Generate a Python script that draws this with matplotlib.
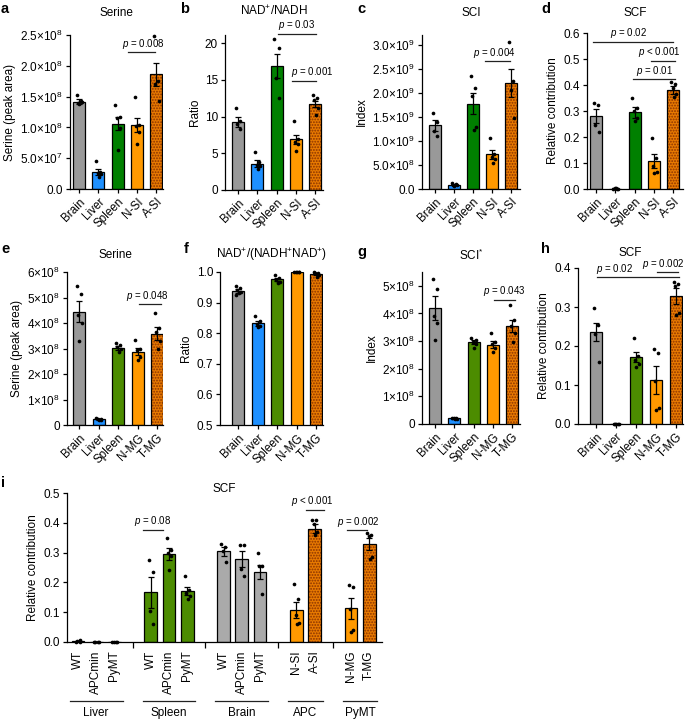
import numpy as np
import matplotlib
matplotlib.use('Agg')
import matplotlib.pyplot as plt

plt.rcParams['font.family'] = 'Liberation Sans'
plt.rcParams['mathtext.fontset'] = 'custom'
plt.rcParams['mathtext.rm'] = 'Liberation Sans'
plt.rcParams['mathtext.it'] = 'Liberation Sans:italic'
plt.rcParams['font.size'] = 8.5
plt.rcParams['hatch.linewidth'] = 0.9
plt.rcParams['axes.linewidth'] = 0.9

# ---------------- data ----------------
si_labels = ['Brain', 'Liver', 'Spleen', 'N-SI', 'A-SI']
mg_labels = ['Brain', 'Liver', 'Spleen', 'N-MG', 'T-MG']

# a  Serine (intestine cohort)
a_mean = [1.42e8, 0.27e8, 1.06e8, 1.04e8, 1.86e8]
a_sem = [0.04e8, 0.05e8, 0.11e8, 0.12e8, 0.18e8]
a_pts = [[1.52e8, 1.43e8, 1.40e8, 1.41e8, 1.38e8],
         [0.45e8, 0.28e8, 0.26e8, 0.24e8, 0.19e8],
         [1.37e8, 1.17e8, 1.15e8, 0.99e8, 0.64e8],
         [1.49e8, 1.04e8, 1.03e8, 0.93e8, 0.73e8],
         [2.49e8, 1.76e8, 1.70e8, 1.43e8]]
a_yticks = [0, 0.5e8, 1.0e8, 1.5e8, 2.0e8, 2.5e8]
a_yticklabels = ['0.0', '5.0×10$^{7}$', '1.0×10$^{8}$', '1.5×10$^{8}$',
                 '2.0×10$^{8}$', '2.5×10$^{8}$']

# b  NAD+/NADH
b_mean = [9.3, 3.6, 16.9, 6.9, 11.7]
b_sem = [0.7, 0.45, 1.6, 0.65, 0.45]
b_pts = [[11.1, 9.4, 9.0, 8.3],
         [5.2, 3.8, 3.4, 3.3, 2.9],
         [20.5, 19.3, 15.2, 12.5],
         [9.4, 7.0, 6.6, 6.3, 5.3],
         [13.0, 12.5, 12.2, 11.2, 10.2]]
b_yticks = [0, 5, 10, 15, 20]

# c  SCI
c_mean = [1.32e9, 0.09e9, 1.77e9, 0.72e9, 2.2e9]
c_sem = [0.11e9, 0.01e9, 0.22e9, 0.09e9, 0.29e9]
c_pts = [[1.58e9, 1.40e9, 1.20e9, 1.10e9],
         [0.13e9, 0.10e9, 0.09e9, 0.08e9, 0.07e9],
         [2.35e9, 2.10e9, 1.93e9, 1.28e9, 1.23e9],
         [1.07e9, 0.72e9, 0.66e9, 0.62e9, 0.55e9],
         [3.05e9, 2.25e9, 2.05e9, 1.47e9]]
c_yticks = [0, 0.5e9, 1.0e9, 1.5e9, 2.0e9, 2.5e9, 3.0e9]
c_yticklabels = ['0.0', '5.0×10$^{8}$', '1.0×10$^{9}$', '1.5×10$^{9}$',
                 '2.0×10$^{9}$', '2.5×10$^{9}$', '3.0×10$^{9}$']

# d  SCF
d_mean = [0.28, 0.0015, 0.295, 0.107, 0.38]
d_sem = [0.027, 0.0005, 0.02, 0.028, 0.015]
d_pts = [[0.33, 0.325, 0.245, 0.22],
         [0.001, 0.001, 0.002, 0.001, 0.002],
         [0.35, 0.31, 0.30, 0.275, 0.26],
         [0.195, 0.12, 0.09, 0.065, 0.06],
         [0.41, 0.405, 0.39, 0.365, 0.355]]
d_yticks = [0.0, 0.1, 0.2, 0.3, 0.4, 0.5, 0.6]

# e  Serine (mammary cohort)
e_mean = [4.45e8, 0.22e8, 3.03e8, 2.87e8, 3.58e8]
e_sem = [0.42e8, 0.02e8, 0.08e8, 0.14e8, 0.25e8]
e_pts = [[5.45e8, 5.15e8, 4.3e8, 4.0e8, 3.3e8],
         [0.26e8, 0.25e8, 0.22e8, 0.20e8, 0.18e8],
         [3.22e8, 3.15e8, 3.05e8, 2.98e8, 2.85e8],
         [3.35e8, 3.0e8, 2.95e8, 2.65e8, 2.55e8],
         [4.4e8, 3.8e8, 3.65e8, 3.3e8, 3.0e8]]
e_yticks = [0, 1e8, 2e8, 3e8, 4e8, 5e8, 6e8]
e_yticklabels = ['0', '1×10$^{8}$', '2×10$^{8}$', '3×10$^{8}$', '4×10$^{8}$',
                 '5×10$^{8}$', '6×10$^{8}$']

# f  NAD+/(NADH+NAD+)
f_mean = [0.937, 0.832, 0.976, 0.999, 0.994]
f_sem = [0.006, 0.008, 0.004, 0.0005, 0.003]
f_pts = [[0.955, 0.948, 0.94, 0.935, 0.93, 0.925],
         [0.855, 0.84, 0.83, 0.825, 0.82],
         [0.99, 0.98, 0.975, 0.968, 0.965],
         [0.9995, 0.999, 0.9985, 0.999, 0.9995],
         [0.999, 0.998, 0.997, 0.99, 0.985]]
f_yticks = [0.5, 0.6, 0.7, 0.8, 0.9, 1.0]

# g  SCI*
g_mean = [4.2e8, 0.2e8, 2.97e8, 2.87e8, 3.55e8]
g_sem = [0.42e8, 0.01e8, 0.07e8, 0.12e8, 0.23e8]
g_pts = [[5.25e8, 4.9e8, 3.9e8, 3.65e8, 3.05e8],
         [0.22e8, 0.21e8, 0.20e8, 0.18e8, 0.17e8],
         [3.1e8, 3.05e8, 2.95e8, 2.88e8, 2.75e8],
         [3.3e8, 2.95e8, 2.9e8, 2.75e8, 2.6e8],
         [4.3e8, 3.75e8, 3.55e8, 3.3e8, 2.95e8]]
g_yticks = [0, 1e8, 2e8, 3e8, 4e8, 5e8]
g_yticklabels = ['0', '1×10$^{8}$', '2×10$^{8}$', '3×10$^{8}$', '4×10$^{8}$',
                 '5×10$^{8}$']

# h  SCF
h_mean = [0.235, 0.0005, 0.172, 0.113, 0.328]
h_sem = [0.023, 0.0003, 0.013, 0.035, 0.02]
h_pts = [[0.298, 0.255, 0.23, 0.16],
         [0.0005, 0.0005, 0.0005, 0.0005, 0.0005],
         [0.22, 0.175, 0.165, 0.155, 0.145],
         [0.192, 0.183, 0.11, 0.04, 0.035],
         [0.365, 0.36, 0.355, 0.285, 0.28]]
h_yticks = [0.0, 0.1, 0.2, 0.3, 0.4]

# i  SCF across cohorts
i_groups = ['Liver', 'Spleen', 'Brain', 'APC', 'PyMT']
i_group_sizes = [3, 3, 3, 2, 2]
i_labels = ['WT', 'APCmin', 'PyMT', 'WT', 'APCmin', 'PyMT', 'WT', 'APCmin', 'PyMT',
            'N-SI', 'A-SI', 'N-MG', 'T-MG']
i_mean = [0.002, 0.0005, 0.0005, 0.167, 0.295, 0.172, 0.305, 0.28, 0.235,
          0.107, 0.38, 0.113, 0.328]
i_sem = [0.001, 0.0003, 0.0003, 0.052, 0.02, 0.013, 0.015, 0.027, 0.023,
         0.028, 0.015, 0.035, 0.02]
i_pts = [[0.0, 0.001, 0.002, 0.006],
         [0.0005, 0.0005, 0.0005, 0.0005],
         [0.0005, 0.0005, 0.0005, 0.0005],
         [0.275, 0.235, 0.105, 0.06],
         [0.35, 0.31, 0.30, 0.29, 0.24],
         [0.22, 0.175, 0.165, 0.155, 0.145],
         [0.33, 0.32, 0.305, 0.27],
         [0.325, 0.325, 0.245, 0.22],
         [0.298, 0.255, 0.255, 0.16],
         [0.195, 0.145, 0.09, 0.065, 0.06],
         [0.41, 0.41, 0.395, 0.37, 0.36],
         [0.192, 0.183, 0.11, 0.04, 0.035],
         [0.365, 0.36, 0.355, 0.285, 0.28]]
i_yticks = [0.0, 0.1, 0.2, 0.3, 0.4, 0.5]

# significance annotations: (x1, x2, y, text, text_x)
a_sig = [(2.55, 3.95, 2.22e8, r'$p$ = 0.008', 3.35)]
b_sig = [(2.05, 4.05, 21.3, r'$p$ = 0.03', 3.05),
         (2.8, 4.05, 14.9, r'$p$ = 0.001', 3.85)]
c_sig = [(2.6, 3.95, 2.65e9, r'$p$ = 0.004', 3.1)]
d_sig = [(-0.15, 4.0, 0.566, r'$p$ = 0.02', 1.7),
         (2.85, 4.1, 0.494, r'$p$ < 0.001', 3.25),
         (1.9, 4.1, 0.423, r'$p$ = 0.01', 3.05)]
e_sig = [(3.05, 4.2, 4.73e8, r'$p$ = 0.048', 3.5)]
g_sig = [(3.05, 4.15, 4.5e8, r'$p$ = 0.043', 3.6)]
h_sig = [(0.05, 4.15, 0.376, r'$p$ = 0.02', 0.95),
         (3.05, 4.1, 0.39, r'$p$ = 0.002', 3.35)]
i_sig = [(3.6, 4.65, 0.377, r'$p$ = 0.08', 4.1),
         (12.5, 13.5, 0.444, r'$p$ < 0.001', 12.9),
         (14.8, 15.9, 0.376, r'$p$ = 0.002', 15.4)]

# ---------------- style ----------------
GRAY = '#999999'
LGRAY = '#aaaaaa'
BLUE = '#1e90ff'
GREEN = '#008000'
OLIVE = '#4c8c00'
ORANGE = '#ff9900'
HATCH_FACE = '#e87a00'
HATCH_DOT = '#8a3300'
JIT = [-0.12, 0.1, -0.04, 0.13, 0.02, -0.09]

W, H = 689, 719
fig = plt.figure(figsize=(W / 100, H / 100), dpi=100)


def add_ax(left, right, top, bottom):
    return fig.add_axes([left / W, 1 - bottom / H, (right - left) / W, (bottom - top) / H])


def draw_bars(ax, x, means, sems, pts, colors, hatched, width):
    for k in range(len(x)):
        if k in hatched:
            ax.bar(x[k], means[k], width, color=HATCH_FACE, hatch='......',
                   edgecolor=HATCH_DOT, linewidth=0, zorder=2)
            ax.bar(x[k], means[k], width, fill=False, edgecolor='black',
                   linewidth=0.9, zorder=3)
        else:
            ax.bar(x[k], means[k], width, color=colors[k], edgecolor='black',
                   linewidth=0.9, zorder=2)
        xs = [x[k] + JIT[j] for j in range(len(pts[k]))]
        ax.scatter(xs, pts[k], s=7, color='black', zorder=5, clip_on=False,
                   linewidths=0)
    ax.errorbar(x, means, yerr=sems, fmt='none', ecolor='black', elinewidth=0.9,
                capsize=2.5, capthick=0.9, zorder=6)


def sig(ax, items):
    for x1, x2, y, txt, tx in items:
        ax.plot([x1, x2], [y, y], color='#222222', lw=0.9, clip_on=False, zorder=7)
        ax.annotate(txt, (tx, y), xytext=(0, 1.0), textcoords='offset points',
                    ha='center', va='bottom', fontsize=7, annotation_clip=False)


def style(ax):
    for s in ['top', 'right']:
        ax.spines[s].set_visible(False)
    ax.tick_params(direction='out', length=3, width=0.9, labelsize=8.5, pad=2)


def small_panel(box, xlim, means, sems, pts, colors, labels, ylim, yticks,
                yticklabels, ylabel, title, title_y, letter, letter_xy, sigs):
    ax = add_ax(*box)
    x = np.arange(len(means))
    draw_bars(ax, x, means, sems, pts, colors, [4], 0.62)
    ax.set_xlim(*xlim)
    ax.set_ylim(*ylim)
    ax.set_yticks(yticks)
    ax.set_yticklabels(yticklabels)
    ax.set_xticks(x)
    ax.set_xticklabels(labels, rotation=45, ha='right', rotation_mode='anchor')
    ax.set_ylabel(ylabel, fontsize=8.5, labelpad=3)
    style(ax)
    sig(ax, sigs)
    cx = (box[0] + box[1]) / 2
    fig.text(cx / W, 1 - title_y / H, title, ha='center', va='center', fontsize=8.5)
    fig.text(letter_xy[0] / W, 1 - letter_xy[1] / H, letter, fontsize=10.5,
             fontweight='bold', ha='left', va='center')
    return ax


row1_cols = [GRAY, BLUE, GREEN, ORANGE, ORANGE]
row2_cols = [GRAY, BLUE, OLIVE, ORANGE, ORANGE]

small_panel((70, 163, 35, 189), (-0.47, 4.35), a_mean, a_sem, a_pts, row1_cols,
            si_labels, (0, 2.5e8), a_yticks, a_yticklabels, 'Serine (peak area)',
            'Serine', 13, 'a', (1, 9), a_sig)
small_panel((225, 323, 35, 190), (-0.67, 4.4), b_mean, b_sem, b_pts, row1_cols,
            si_labels, (0, 21.1), b_yticks, [str(v) for v in b_yticks], 'Ratio',
            'NAD$^{+}$/NADH', 11, 'b', (180, 9), b_sig)
small_panel((422, 520, 35, 189), (-0.68, 4.45), c_mean, c_sem, c_pts, row1_cols,
            si_labels, (0, 3.2e9), c_yticks, c_yticklabels, 'Index',
            'SCI', 13, 'c', (357, 9), c_sig)
small_panel((587, 683, 33, 189), (-0.47, 4.5), d_mean, d_sem, d_pts, row1_cols,
            si_labels, (0, 0.6), d_yticks, ['%.1f' % v for v in d_yticks],
            'Relative contribution', 'SCF', 13, 'd', (541, 9), d_sig)

small_panel((67, 163, 272, 425), (-0.62, 4.3), e_mean, e_sem, e_pts, row2_cols,
            mg_labels, (0, 6e8), e_yticks, e_yticklabels, 'Serine (peak area)',
            'Serine', 255, 'e', (1, 249), e_sig)
small_panel((220, 323, 272, 425), (-0.93, 4.35), f_mean, f_sem, f_pts, row2_cols,
            mg_labels, (0.5, 1.0), f_yticks, ['%.1f' % v for v in f_yticks], 'Ratio',
            'NAD$^{+}$/(NADH$^{+}$NAD$^{+}$)', 255, 'f', (184, 249), [])
small_panel((422, 520, 272, 424), (-0.67, 4.4), g_mean, g_sem, g_pts, row2_cols,
            mg_labels, (0, 5.5e8), g_yticks, g_yticklabels, 'Index',
            'SCI$^{*}$', 255, 'g', (357, 252), g_sig)
small_panel((578, 683, 268, 424), (-0.9, 4.35), h_mean, h_sem, h_pts, row2_cols,
            mg_labels, (0, 0.4), h_yticks, ['%.1f' % v for v in h_yticks],
            'Relative contribution', 'SCF', 253, 'h', (541, 249), h_sig)

# ---------------- panel i ----------------
ax = add_ax(67, 382, 493, 642)
pos = []
seps = []
start = 0
for n in i_group_sizes:
    pos.extend(range(start, start + n))
    seps.append(start + n)
    start += n + 1
seps = seps[:-1]
i_cols = [BLUE] * 3 + [OLIVE] * 3 + [LGRAY] * 3 + [ORANGE, ORANGE, ORANGE, ORANGE]
draw_bars(ax, pos, i_mean, i_sem, i_pts, i_cols, [10, 12], 0.7)
ax.set_xlim(-0.6, 16.7)
ax.set_ylim(0, 0.5)
ax.set_yticks(i_yticks)
ax.set_yticklabels(['%.1f' % v for v in i_yticks])
ax.set_xticks(pos)
ax.set_xticklabels(i_labels, rotation=90, ha='center', va='top')
ax.set_xticks(seps, minor=True)
style(ax)
ax.tick_params(axis='x', which='major', length=0, pad=6)
ax.tick_params(axis='x', which='minor', length=4, width=0.9)
ax.set_ylabel('Relative contribution', fontsize=8.5, labelpad=3)
sig(ax, i_sig)
tr = ax.get_xaxis_transform()
k = 0
for name, n in zip(i_groups, i_group_sizes):
    x0, x1 = pos[k], pos[k + n - 1]
    ax.plot([x0 - 0.45, x1 + 0.45], [-0.395, -0.395], color='#222222', lw=0.9,
            transform=tr, clip_on=False)
    ax.text((x0 + x1) / 2, -0.475, name, transform=tr, ha='center', va='center',
            fontsize=8.5)
    k += n
fig.text((67 + 382) / 2 / W, 1 - 489 / H, 'SCF', ha='center', va='center', fontsize=8.5)
fig.text(1 / W, 1 - 483 / H, 'i', fontsize=10.5, fontweight='bold', ha='left',
         va='center')

fig.savefig('out.png', dpi=100)
